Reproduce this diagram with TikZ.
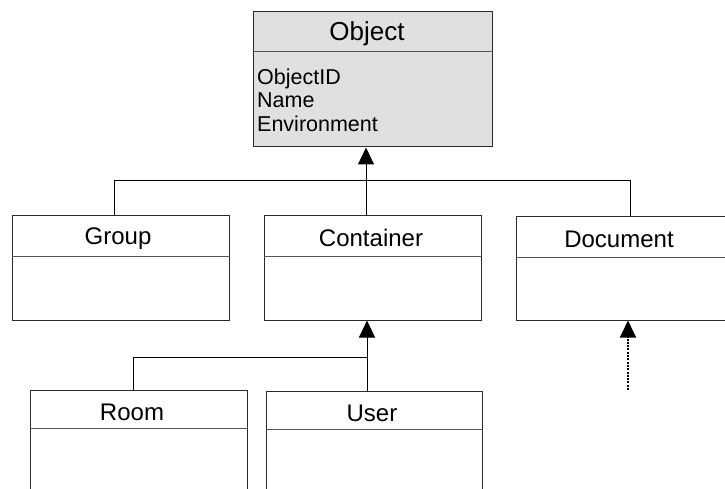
\documentclass[tikz,border=0pt]{standalone}
\usepackage{fontspec}
\setmainfont{Liberation Sans}
\usetikzlibrary{arrows.meta,calc}
\definecolor{edge}{HTML}{2B2B2B}
\definecolor{rule}{HTML}{555555}
\definecolor{shade}{HTML}{E0E0E0}
\tikzset{
  cls/.style={draw=edge, line width=1pt, inner sep=0pt, minimum width=217pt, minimum height=105pt},
  sep/.style={draw=rule, line width=1pt},
  conn/.style={draw=black, line width=1pt},
  inh/.style={conn, -{Triangle[length=17pt,width=16pt]}},
  real/.style={draw=black, line width=1.6pt, dash pattern=on 2pt off 1.3pt, -{Triangle[length=17pt,width=16pt]}},
  title/.style={font=\fontsize{24}{28}\selectfont, anchor=base, inner sep=0pt},
  attr/.style={font=\fontsize{21.5}{25}\selectfont, anchor=base west, inner sep=0pt},
}

\begin{document}
\begin{tikzpicture}[x=1pt,y=-1pt]
  \useasboundingbox (0,0) rectangle (725,489);
  % class boxes
  \node[cls, fill=shade, minimum width=239pt, minimum height=135pt] (obj) at (372.5,79.5) {};
  \node[cls] (group) at (120.5,267.5) {};
  \node[cls] (cont) at (372.5,267.5) {};
  \node[cls, minimum width=211pt, minimum height=104pt] (doc) at (621.5,268) {};
  \node[cls] (room) at (138.5,442.5) {};
  \node[cls, minimum width=216pt, minimum height=104pt] (user) at (374,443) {};
  % name compartments
  \draw[sep] (obj.west |- 0,52) -- (obj.east |- 0,52);
  \draw[sep] (group.west |- 0,256) -- (group.east |- 0,256);
  \draw[sep] (cont.west |- 0,256) -- (cont.east |- 0,256);
  \draw[sep] (doc.west |- 0,257) -- (doc.east |- 0,257);
  \draw[sep] (room.west |- 0,428) -- (room.east |- 0,428);
  \draw[sep] (user.west |- 0,429) -- (user.east |- 0,429);
  % names and attributes
  \node[title, font=\fontsize{26}{30}\selectfont] (objName) at (367,41) {Object};
  \node[attr] (objId) at (257,85) {ObjectID};
  \node[attr] (objNm) at (257,108) {Name};
  \node[attr] (objEnv) at (257,132) {Environment};
  \node[title] (groupName) at (118,244) {Group};
  \node[title] (contName) at (371,246) {Container};
  \node[title] (docName) at (619,247) {Document};
  \node[title] (roomName) at (132,420) {Room};
  \node[title] (userName) at (372,421) {User};
  % generalisation: Group, Container, Document -> Object
  \coordinate (busL) at (114,181);
  \coordinate (busM) at (366,181);
  \coordinate (busR) at (630,181);
  \draw[conn] (group.north -| busL) -- (busL) -- (busR) -- (busR |- doc.north);
  \draw[inh] (cont.north -| busM) -- (busM |- obj.south);
  % Room, User -> Container
  \coordinate (subL) at (133,357);
  \coordinate (subR) at (367,357);
  \draw[conn] (room.north -| subL) -- (subL) -- (subR);
  \draw[inh] (user.north -| subR) -- (subR |- cont.south);
  % dotted link into Document
  \coordinate (docIn) at (628,390);
  \draw[real] (docIn) -- (docIn |- doc.south);
\end{tikzpicture}
\end{document}
